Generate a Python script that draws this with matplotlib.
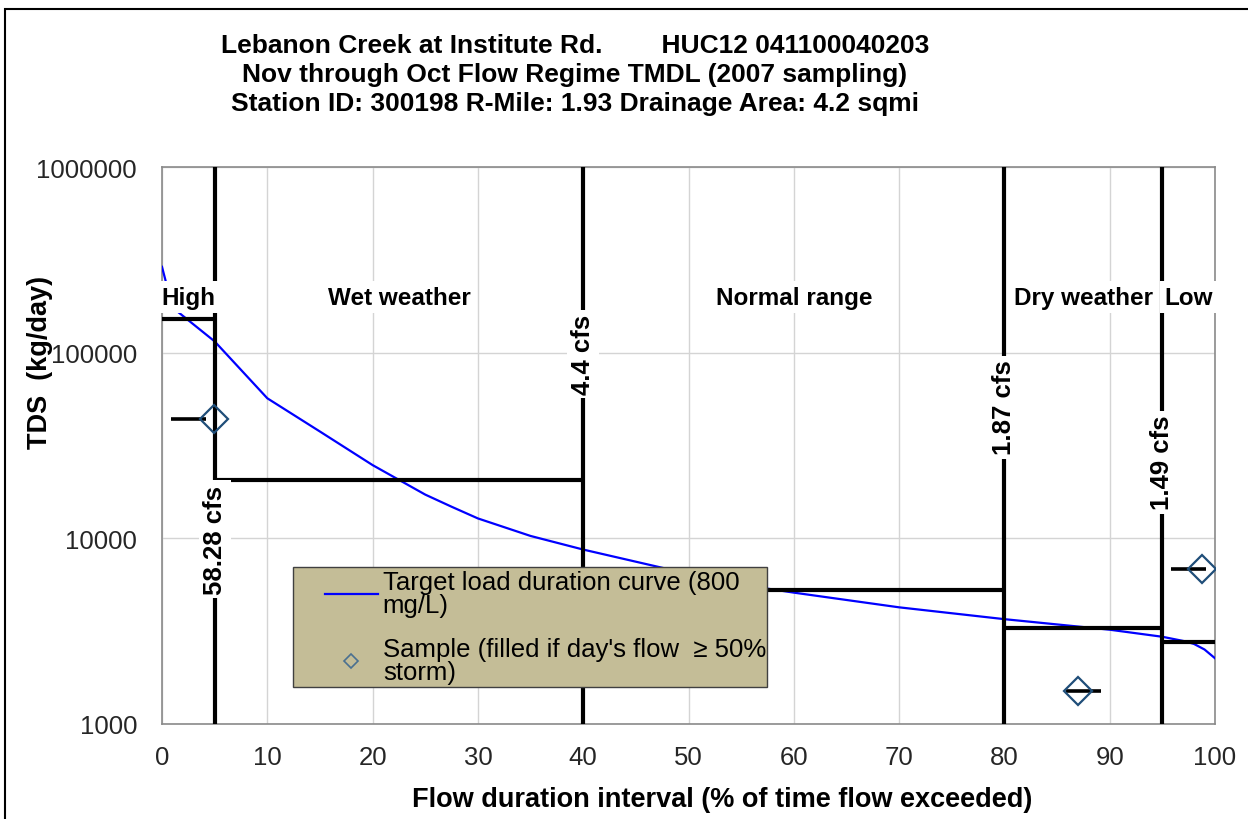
import numpy as np
import matplotlib.pyplot as plt
from matplotlib.lines import Line2D
from matplotlib.patches import Rectangle
from matplotlib.ticker import FixedLocator, FuncFormatter, NullLocator
import matplotlib.transforms as mtransforms

plt.rcParams['font.family'] = ['Liberation Sans', 'DejaVu Sans']

# ---------------- data ----------------
# target load duration curve at 800 mg/L
curve_pct = [0, 1, 5, 10, 15, 20, 25, 27.5, 30, 35, 40, 47.7, 50,
             57.3, 60, 70, 80, 90, 95, 97, 98, 99, 100]
curve_load = [290000, 175000, 115000, 56800, 37600, 24800, 17200, 14800,
              12800, 10300, 8700, 6900, 6300, 5380, 5100, 4250, 3670,
              3220, 2950, 2800, 2700, 2520, 2260]

# flow regime zones
zone_edges = [0, 5, 40, 80, 95, 100]
zone_names = ["High", "Wet weather", "Normal range", "Dry weather", "Low"]
zone_tmdl = [152000, 20700, 5300, 3290, 2770]
zone_existing = [43800, None, None, 1510, 6840]

# flow at zone boundaries
boundary_pct = [5, 40, 80, 95]
boundary_flow = ["58.28 cfs", "4.4 cfs", "1.87 cfs", "1.49 cfs"]
boundary_label_y = [0.332, 0.664, 0.569, 0.470]

# samples
sample_pct = [4.9, 87.0, 98.8]
sample_load = [43800, 1510, 6840]

# ---------------- figure ----------------
fig = plt.figure(figsize=(12.48, 8.2), dpi=100)
ax = fig.add_axes([162/1248, 95/820, 1053/1248, 557/820])

ax.set_yscale('log')
ax.set_xlim(0, 100)
ax.set_ylim(1000, 1000000)

ax.xaxis.set_major_locator(FixedLocator(np.arange(0, 101, 10)))
ax.yaxis.set_major_locator(FixedLocator([1000, 10000, 100000, 1000000]))
ax.yaxis.set_minor_locator(NullLocator())
ax.yaxis.set_major_formatter(FuncFormatter(lambda v, p: f"{int(v)}"))
ax.tick_params(axis='both', length=0, labelsize=18.5, colors="#262626")
ax.tick_params(axis='y', pad=18)
ax.tick_params(axis='x', pad=15)
ax.grid(True, which='major', color="#d4d4d4", linewidth=1.0, zorder=0)
ax.set_axisbelow(True)
for sp in ax.spines.values():
    sp.set_color("#8a8a8a")
    sp.set_linewidth(1.2)

# load duration curve
ax.plot(curve_pct, curve_load, color="#0000ff", linewidth=1.6, zorder=3)

# zone boundaries and TMDL / existing-load bars
for x in boundary_pct:
    ax.axvline(x, color="black", linewidth=3.0, zorder=4)
for i, name in enumerate(zone_names):
    x0, x1 = zone_edges[i], zone_edges[i+1]
    ax.plot([x0, x1], [zone_tmdl[i], zone_tmdl[i]], color="black",
            linewidth=3.0, solid_capstyle='butt', zorder=4)
    if zone_existing[i] is not None:
        xc = 0.5*(x0 + x1)
        ax.plot([xc - 1.65, xc + 1.65], [zone_existing[i]]*2, color="black",
                linewidth=2.6, solid_capstyle='butt', zorder=4)

# samples
ax.plot(sample_pct, sample_load, linestyle='none', marker='D', markersize=14,
        markerfacecolor='none', markeredgecolor="#1f4e79", markeredgewidth=1.6,
        zorder=5)

# zone names along the top
trans = mtransforms.blended_transform_factory(ax.transData, ax.transAxes)
for i, name in enumerate(zone_names):
    xc = 0.5*(zone_edges[i] + zone_edges[i+1])
    ax.text(xc, 0.7666, name, transform=trans, ha='center', va='center',
            fontsize=17.5, fontweight='bold', zorder=10,
            bbox=dict(facecolor='white', edgecolor='none', pad=3))

# flow at each boundary
for x, lab, yy in zip(boundary_pct, boundary_flow, boundary_label_y):
    ax.text(x, yy, lab, transform=trans, rotation=90, ha='center', va='center',
            fontsize=18.5, fontweight='bold', zorder=10,
            bbox=dict(facecolor='white', edgecolor='none', pad=3))

# legend box drawn separately so its size is fixed
ax.add_patch(Rectangle((293/1248, 1 - 688/820), 474/1248, 120/820,
                       transform=fig.transFigure, facecolor="#c4bd97",
                       edgecolor="#404040", linewidth=1.0, zorder=7,
                       clip_on=False))
handles = [
    Line2D([], [], color="#0000ff", linewidth=1.6),
    Line2D([], [], linestyle='none', marker='D', markersize=7,
           markerfacecolor='none', markeredgecolor="#4a7090",
           markeredgewidth=1.2),
]
labels = ["Target load duration curve (800\nmg/L)",
          "Sample (filled if day's flow  \u2265 50%\nstorm)"]
leg = ax.legend(handles, labels, loc='upper left',
                bbox_to_anchor=(325/1248, 1 - 571/820),
                bbox_transform=fig.transFigure, fontsize=18.5,
                frameon=False, handlelength=2.05, handletextpad=0.2,
                borderpad=0, labelspacing=0.75, borderaxespad=0)
for t in leg.get_texts():
    t.set_linespacing(0.97)
leg.set_zorder(8)

# titles and axis labels
fig.text(575/1248, 1 - 34/820,
         "Lebanon Creek at Institute Rd.        HUC12 041100040203\n"
         "Nov through Oct Flow Regime TMDL (2007 sampling)\n"
         "Station ID: 300198 R-Mile: 1.93 Drainage Area: 4.2 sqmi",
         ha='center', va='top', fontsize=19, fontweight='bold',
         linespacing=1.25)
fig.text(722/1248, 1 - 800/820, "Flow duration interval (% of time flow exceeded)",
         ha='center', va='center', fontsize=19.5, fontweight='bold')
fig.text(40/1248, 1 - 362/820, "TDS  (kg/day)", rotation=90,
         ha='center', va='center', fontsize=19.5, fontweight='bold')

# chart area border
fig.patches.append(Rectangle((5/1248, -0.1), 1.2, 1 - 10/820 + 0.1,
                             transform=fig.transFigure, fill=False,
                             edgecolor="black", linewidth=1.5))

fig.savefig("out.png", dpi=100)
